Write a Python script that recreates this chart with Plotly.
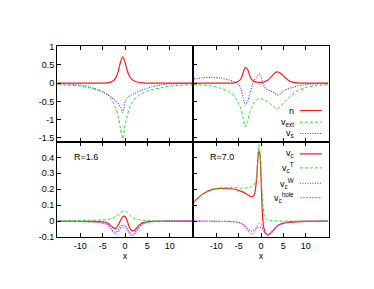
import plotly.graph_objects as go
from plotly.subplots import make_subplots

# ---------------- data ----------------
x_r16 = [-15, -12, -10, -8, -6, -5, -4, -3.5, -3, -2.5, -2, -1.5, -1, -0.5, 0,
         0.5, 1, 1.5, 2, 2.5, 3, 3.5, 4, 5, 6, 8, 10, 12, 15]

n_r16 = [0, 0, 0, 0, 0.002, 0.004, 0.01, 0.02, 0.04, 0.08, 0.16, 0.33, 0.58, 0.72, 0.58,
         0.34, 0.19, 0.11, 0.065, 0.04, 0.025, 0.015, 0.01, 0.004, 0.002, 0, 0, 0, 0]
vext_r16 = [-0.04, -0.06, -0.08, -0.13, -0.18, -0.22, -0.3, -0.36, -0.44, -0.55, -0.7, -0.92, -1.25, -1.53, -1.15,
            -0.9, -0.68, -0.56, -0.47, -0.4, -0.34, -0.3, -0.27, -0.21, -0.18, -0.13, -0.08, -0.06, -0.04]
vs_r16 = [-0.01, -0.03, -0.05, -0.1, -0.19, -0.25, -0.31, -0.35, -0.39, -0.44, -0.5, -0.57, -0.66, -0.8, -0.52,
          -0.4, -0.35, -0.32, -0.29, -0.26, -0.23, -0.2, -0.18, -0.14, -0.1, -0.05, -0.02, -0.01, 0]

vc_r16 = [-0.001, -0.001, -0.001, -0.002, -0.003, -0.005, -0.01, -0.02, -0.033, -0.044, -0.045, -0.025, 0.005, 0.028, 0.03,
          0.0, -0.04, -0.06, -0.06, -0.045, -0.03, -0.018, -0.01, -0.004, -0.002, -0.001, 0, 0, 0]
vcT_r16 = [0.003, 0.003, 0.004, 0.005, 0.006, 0.007, 0.009, 0.012, 0.016, 0.022, 0.03, 0.04, 0.052, 0.062, 0.064,
           0.055, 0.04, 0.027, 0.018, 0.012, 0.009, 0.007, 0.005, 0.003, 0.002, 0.001, 0, 0, 0]
vcW_r16 = [-0.001, -0.002, -0.003, -0.004, -0.006, -0.01, -0.02, -0.033, -0.05, -0.065, -0.07, -0.055, -0.035, -0.025, -0.027,
           -0.045, -0.07, -0.083, -0.08, -0.06, -0.04, -0.025, -0.015, -0.006, -0.003, -0.001, 0, 0, 0]
vch_r16 = [-0.001, -0.002, -0.003, -0.005, -0.008, -0.013, -0.025, -0.04, -0.058, -0.075, -0.083, -0.07, -0.05, -0.038, -0.04,
           -0.06, -0.082, -0.092, -0.09, -0.07, -0.048, -0.03, -0.018, -0.008, -0.004, -0.002, -0.001, 0, 0]

x_r70 = [-15, -13, -11, -9, -7, -6, -5, -4.5, -4, -3.5, -3, -2.5, -2, -1.5, -1, -0.75, -0.5, -0.25, 0,
         0.25, 0.5, 0.75, 1, 1.5, 2, 2.5, 3, 3.5, 4, 4.5, 5, 6, 7, 8, 10, 12, 15]

n_r70 = [0, 0, 0, 0, 0.002, 0.01, 0.05, 0.12, 0.28, 0.43, 0.38, 0.2, 0.09, 0.05, 0.03, 0.025, 0.02, 0.02, 0.02,
         0.025, 0.03, 0.04, 0.05, 0.08, 0.13, 0.2, 0.27, 0.31, 0.3, 0.26, 0.2, 0.09, 0.03, 0.01, 0, 0, 0]
vext_r70 = [-0.03, -0.05, -0.08, -0.14, -0.25, -0.36, -0.55, -0.7, -0.95, -1.2, -1.05, -0.8, -0.64, -0.52, -0.46, -0.44, -0.43, -0.43, -0.43,
            -0.435, -0.44, -0.455, -0.47, -0.51, -0.56, -0.61, -0.66, -0.7, -0.68, -0.62, -0.55, -0.42, -0.31, -0.22, -0.12, -0.07, -0.04]
vs_r70 = [0.12, 0.15, 0.16, 0.14, 0.08, 0.04, -0.03, -0.14, -0.38, -0.6, -0.5, -0.3, -0.06, 0.08, 0.17, 0.21, 0.25, 0.25, 0.19,
          0.08, -0.02, -0.09, -0.14, -0.18, -0.2, -0.23, -0.27, -0.32, -0.32, -0.27, -0.21, -0.15, -0.12, -0.08, -0.04, -0.02, -0.005]

vc_r70 = [0.12, 0.17, 0.198, 0.205, 0.203, 0.2, 0.193, 0.188, 0.182, 0.174, 0.166, 0.157, 0.152, 0.165, 0.26, 0.37, 0.44, 0.42, 0.28,
          0.08, -0.02, -0.055, -0.075, -0.087, -0.08, -0.068, -0.05, -0.035, -0.025, -0.018, -0.014, -0.01, -0.007, -0.005, -0.002, -0.001, 0]
vcT_r70 = [0.12, 0.17, 0.2, 0.207, 0.21, 0.21, 0.208, 0.207, 0.207, 0.208, 0.21, 0.213, 0.22, 0.23, 0.27, 0.38, 0.48, 0.45, 0.31,
           0.17, 0.08, 0.035, 0.017, 0.006, 0.003, 0.002, 0.001, 0.001, 0.001, 0, 0, 0, 0, 0, 0, 0, 0]
vcW_r70 = [0, 0, 0, -0.001, -0.002, -0.004, -0.008, -0.012, -0.02, -0.032, -0.045, -0.058, -0.062, -0.055, -0.045, -0.04, -0.038, -0.038, -0.04,
           -0.045, -0.055, -0.065, -0.075, -0.082, -0.078, -0.065, -0.05, -0.035, -0.025, -0.017, -0.012, -0.006, -0.003, -0.002, -0.001, 0, 0]
vch_r70 = [0, 0, -0.001, -0.002, -0.003, -0.005, -0.01, -0.015, -0.025, -0.04, -0.055, -0.075, -0.083, -0.07, -0.04, -0.025, -0.016, -0.014, -0.02,
           -0.035, -0.055, -0.072, -0.082, -0.088, -0.083, -0.068, -0.05, -0.036, -0.026, -0.018, -0.012, -0.006, -0.003, -0.002, -0.001, 0, 0]

x_tickvals = [-10, -5, 0, 5, 10]
x_ticktext = ["-10", "-5", "0", "5", "10"]
top_tickvals = [1, 0.5, 0, -0.5, -1, -1.5]
top_ticktext = ["1", "0.5", "0", "-0.5", "-1", "-1.5"]
bot_tickvals = [0.4, 0.3, 0.2, 0.1, 0, -0.1]
bot_ticktext = ["0.4", "0.3", "0.2", "0.1", "0", "-0.1"]

top_labels = ["n", "v<sub>ext</sub>", "v<sub>s</sub>"]
bot_labels = ["v<sub>c</sub>", "v<sub>c</sub><sup>T</sup>", "v<sub>c</sub><sup>W</sup>", "v<sub>c</sub><sup>hole</sup>"]
panel_labels = ["R=1.6", "R=7.0"]

# ---------------- styles ----------------
RED = dict(color="#ff1a1a", width=1.2)
GREEN = dict(color="#22dd22", width=1.0, dash="3px,2px")
BLUE = dict(color="#3333ff", width=1.1, dash="1px,1.5px")
MAG = dict(color="#ff44ff", width=1.0, dash="2px,1px")
FONT = "Liberation Sans, Arial, Helvetica, sans-serif"

fig = make_subplots(rows=2, cols=2, horizontal_spacing=0, vertical_spacing=0)

def add(x, y, line, row, col):
    fig.add_trace(go.Scatter(x=x, y=y, mode="lines", line=dict(shape="spline", smoothing=0.8, **line),
                             showlegend=False, hoverinfo="skip"), row=row, col=col)

add(x_r16, n_r16, RED, 1, 1)
add(x_r16, vext_r16, GREEN, 1, 1)
add(x_r16, vs_r16, BLUE, 1, 1)
add(x_r70, n_r70, RED, 1, 2)
add(x_r70, vext_r70, GREEN, 1, 2)
add(x_r70, vs_r70, BLUE, 1, 2)

add(x_r16, vc_r16, RED, 2, 1)
add(x_r16, vcT_r16, GREEN, 2, 1)
add(x_r16, vcW_r16, BLUE, 2, 1)
add(x_r16, vch_r16, MAG, 2, 1)
add(x_r70, vc_r70, RED, 2, 2)
add(x_r70, vcT_r70, GREEN, 2, 2)
add(x_r70, vcW_r70, BLUE, 2, 2)
add(x_r70, vch_r70, MAG, 2, 2)

axis_common = dict(showline=True, linecolor="#000000", linewidth=1, mirror=True, ticks="inside",
                   ticklen=4, tickwidth=1, tickcolor="#000000", showgrid=False, zeroline=False,
                   tickfont=dict(family=FONT, size=9, color="#000000"))

for r in (1, 2):
    for c in (1, 2):
        fig.update_xaxes(range=[-15.2, 15.2], tickvals=x_tickvals, ticktext=x_ticktext,
                         showticklabels=(r == 2), **{**axis_common, "mirror": "ticks"}, row=r, col=c)
        if r == 2:
            fig.update_xaxes(title=dict(text="x", font=dict(family=FONT, size=9, color="#000000"), standoff=2),
                             row=r, col=c)
        if r == 1:
            fig.update_yaxes(range=[-1.6, 1.02], tickvals=top_tickvals, ticktext=top_ticktext,
                             showticklabels=(c == 1), **axis_common, row=r, col=c)
        else:
            fig.update_yaxes(range=[-0.1, 0.5], tickvals=bot_tickvals, ticktext=bot_ticktext,
                             showticklabels=(c == 1), **axis_common, row=r, col=c)

annotations = []
shapes = []
# top-right key (axes x2/y2)
top_key_lines = [RED, GREEN, BLUE]
top_key_y = [-0.75, -1.07, -1.38]
for lab, ln, yy in zip(top_labels, top_key_lines, top_key_y):
    annotations.append(dict(x=7.8, y=yy, xref="x2", yref="y2", text=lab, showarrow=False,
                            xanchor="right", yanchor="middle", font=dict(family=FONT, size=9, color="#000000")))
    shapes.append(dict(type="line", xref="x2", yref="y2", x0=8.7, x1=13.6, y0=yy, y1=yy,
                       line=dict(color=ln["color"], width=ln["width"], dash=ln.get("dash", "solid"))))
# bottom-right key (axes x4/y4)
bot_key_lines = [RED, GREEN, BLUE, MAG]
bot_key_y = [0.422, 0.334, 0.238, 0.147]
for lab, ln, yy in zip(bot_labels, bot_key_lines, bot_key_y):
    annotations.append(dict(x=7.8, y=yy, xref="x4", yref="y4", text=lab, showarrow=False,
                            xanchor="right", yanchor="middle", font=dict(family=FONT, size=9, color="#000000")))
    shapes.append(dict(type="line", xref="x4", yref="y4", x0=8.7, x1=13.6, y0=yy, y1=yy,
                       line=dict(color=ln["color"], width=ln["width"], dash=ln.get("dash", "solid"))))
# panel labels
for lab, xr, yr in zip(panel_labels, ["x3", "x4"], ["y3", "y4"]):
    annotations.append(dict(x=-11.8, y=0.4, xref=xr, yref=yr, text=lab, showarrow=False,
                            xanchor="left", yanchor="middle", font=dict(family=FONT, size=9, color="#000000")))

fig.update_layout(width=374, height=289, margin=dict(l=57, r=45, t=46, b=52),
                  paper_bgcolor="#ffffff", plot_bgcolor="#ffffff",
                  annotations=annotations, shapes=shapes, showlegend=False,
                  font=dict(family=FONT, size=9, color="#000000"))

fig.write_html("out.html", config={"displayModeBar": False, "staticPlot": True})

# remove the browser's default page margin so the figure sits at the window origin
with open("out.html", "r", encoding="utf-8") as f:
    html = f.read()
html = html.replace("<head>", "<head><style>html,body{margin:0;padding:0;}</style>", 1)
with open("out.html", "w", encoding="utf-8") as f:
    f.write(html)
